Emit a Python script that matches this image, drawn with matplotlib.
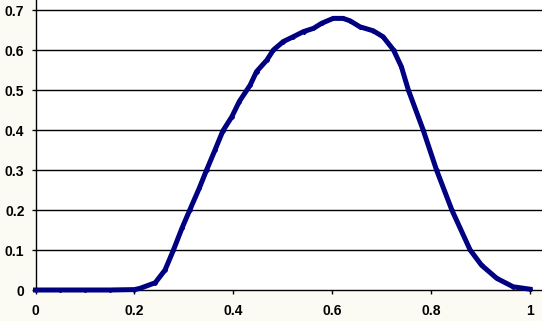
import matplotlib
matplotlib.use('Agg')
import matplotlib.pyplot as plt

# values
x_vals = [0.0, 0.05, 0.10, 0.15, 0.20, 0.211, 0.242, 0.262, 0.279, 0.296, 0.312,
          0.331, 0.346, 0.363, 0.379, 0.397, 0.412, 0.434, 0.447, 0.468, 0.481,
          0.501, 0.521, 0.542, 0.562, 0.579, 0.602, 0.622, 0.636, 0.656, 0.683,
          0.703, 0.724, 0.740, 0.754, 0.784, 0.811, 0.842, 0.879, 0.902, 0.933,
          0.966, 1.0]
y_vals = [0.0, 0.0, 0.0, 0.0, 0.001, 0.004, 0.018, 0.05, 0.10, 0.154, 0.20,
          0.254, 0.30, 0.35, 0.398, 0.433, 0.471, 0.512, 0.546, 0.575, 0.60,
          0.621, 0.633, 0.646, 0.654, 0.667, 0.679, 0.679, 0.673, 0.658, 0.648,
          0.633, 0.60, 0.558, 0.50, 0.40, 0.30, 0.20, 0.10, 0.062, 0.029,
          0.008, 0.002]

x_ticks = [0, 0.2, 0.4, 0.6, 0.8, 1]
x_labels = ['0', '0.2', '0.4', '0.6', '0.8', '1']
y_ticks = [0, 0.1, 0.2, 0.3, 0.4, 0.5, 0.6, 0.7]
y_labels = ['0', '0.1', '0.2', '0.3', '0.4', '0.5', '0.6', '0.7']

fig = plt.figure(figsize=(5.42, 3.21), dpi=100, facecolor='#fbfbf3')
ax = fig.add_axes([35.5 / 542, 31 / 321, 1 - 35.5 / 542, 290 / 321])
ax.set_facecolor('white')

ax.plot(x_vals, y_vals, color='#000080', lw=3.6, marker='D', ms=2,
        solid_joinstyle='round', clip_on=False, zorder=3)

ax.set_xlim(0, 1.0243)
ax.set_ylim(0, 0.725)
ax.set_xticks(x_ticks)
ax.set_xticklabels(x_labels)
ax.set_yticks(y_ticks)
ax.set_yticklabels(y_labels)

for y in y_ticks[1:]:
    ax.axhline(y, color='black', lw=1.0, zorder=1)

for s in ['top', 'right']:
    ax.spines[s].set_visible(False)
for s in ['left', 'bottom']:
    ax.spines[s].set_color('black')
    ax.spines[s].set_linewidth(1.0)

ax.tick_params(axis='x', length=3, width=1, pad=7, direction='out')
ax.tick_params(axis='y', length=3, width=1, pad=5, direction='out')
for lab in ax.get_xticklabels() + ax.get_yticklabels():
    lab.set_fontfamily('Liberation Sans')
    lab.set_fontweight('bold')
    lab.set_fontsize(10)

fig.savefig('out.png', dpi=100, facecolor=fig.get_facecolor())
